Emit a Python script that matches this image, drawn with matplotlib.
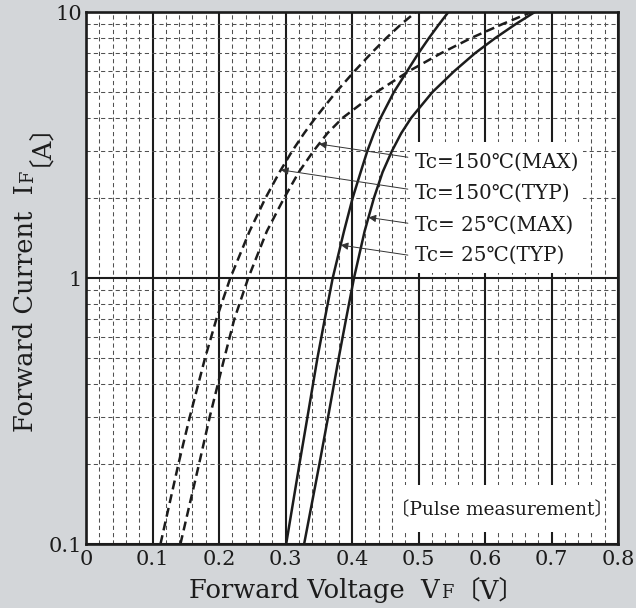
import numpy as np
import matplotlib
matplotlib.use("Agg")
import matplotlib.pyplot as plt
from matplotlib.patches import Rectangle
from matplotlib.ticker import FixedLocator, FixedFormatter, LogLocator, NullFormatter

# ---------------- data ----------------
current_levels = [0.1, 0.2, 0.3, 0.5, 0.7, 1, 1.5, 2, 2.5, 3, 3.5, 4, 5, 6, 7, 8, 9, 10]
vf_150_typ = [0.112, 0.139, 0.156, 0.179, 0.196, 0.217, 0.246, 0.270, 0.291,
              0.310, 0.328, 0.345, 0.376, 0.404, 0.429, 0.452, 0.474, 0.496]
vf_150_max = [0.142, 0.170, 0.186, 0.208, 0.223, 0.244, 0.272, 0.298, 0.320,
              0.342, 0.363, 0.386, 0.437, 0.486, 0.534, 0.580, 0.626, 0.670]
vf_25_typ = [0.301, 0.321, 0.333, 0.348, 0.359, 0.371, 0.388, 0.401, 0.413,
             0.423, 0.433, 0.443, 0.463, 0.483, 0.500, 0.516, 0.531, 0.545]
vf_25_max = [0.328, 0.351, 0.364, 0.380, 0.391, 0.403, 0.419, 0.433, 0.446,
             0.460, 0.474, 0.489, 0.521, 0.554, 0.585, 0.616, 0.646, 0.675]

series_labels = ["Tc=150℃(MAX)", "Tc=150℃(TYP)", "Tc= 25℃(MAX)", "Tc= 25℃(TYP)"]
arrow_currents = [3.19, 2.55, 1.69, 1.33]   # current where each label arrow touches its curve

x_ticks = [0, 0.1, 0.2, 0.3, 0.4, 0.5, 0.6, 0.7, 0.8]
x_tick_labels = ["0", "0.1", "0.2", "0.3", "0.4", "0.5", "0.6", "0.7", "0.8"]
y_ticks = [0.1, 1, 10]
y_tick_labels = ["0.1", "1", "10"]
note_text = "〔Pulse measurement〕"

# ---------------- style ----------------
BG = "#d3d6d9"
INK = "#1c1c1c"
FAM = ["DejaVu Serif", "DejaVu Sans", "Noto Sans CJK JP"]
plt.rcParams["font.family"] = FAM

W_PX, H_PX = 636, 608
fig = plt.figure(figsize=(W_PX / 100, H_PX / 100), dpi=100, facecolor=BG)
ax = fig.add_axes([86 / W_PX, 64 / H_PX, 532 / W_PX, 532 / H_PX])
ax.set_facecolor("white")

ax.set_yscale("log")
ax.set_xlim(0, 0.8)
ax.set_ylim(0.1, 10)

ax.xaxis.set_major_locator(FixedLocator(x_ticks))
ax.xaxis.set_major_formatter(FixedFormatter(x_tick_labels))
minor_x = [v for v in np.arange(0.02, 0.8, 0.02) if abs(v * 10 - round(v * 10)) > 1e-6]
ax.xaxis.set_minor_locator(FixedLocator(minor_x))
ax.yaxis.set_major_locator(FixedLocator(y_ticks))
ax.yaxis.set_major_formatter(FixedFormatter(y_tick_labels))
ax.yaxis.set_minor_locator(LogLocator(base=10, subs=range(2, 10)))
ax.yaxis.set_minor_formatter(NullFormatter())

ax.tick_params(which="both", length=0, labelsize=15, colors=INK)
ax.tick_params(axis="x", pad=4)
ax.tick_params(axis="y", pad=3)

ax.set_axisbelow(True)
ax.grid(which="major", color=INK, lw=1.5, ls="-")
ax.grid(which="minor", color="#505050", lw=0.75, ls=(0, (4, 3)))
for sp in ax.spines.values():
    sp.set_linewidth(1.9)
    sp.set_color(INK)

# ---------------- curves ----------------
dash = (0, (3.6, 2.0))
ax.plot(vf_150_max, current_levels, color=INK, lw=1.8, ls=dash, zorder=2)
ax.plot(vf_150_typ, current_levels, color=INK, lw=1.8, ls=dash, zorder=2)
ax.plot(vf_25_max, current_levels, color=INK, lw=1.8, ls="-", zorder=2)
ax.plot(vf_25_typ, current_levels, color=INK, lw=1.8, ls="-", zorder=2)

# ---------------- label box with arrows ----------------
ax.add_patch(Rectangle((0.609, 0.509), 0.325, 0.247, transform=ax.transAxes,
                       facecolor="white", edgecolor="none", zorder=1.5))
label_y = [0.718, 0.660, 0.5996, 0.543]
arrow_start_y = [0.727, 0.667, 0.603, 0.543]
curves_for_labels = [vf_150_max, vf_150_typ, vf_25_max, vf_25_typ]
log_levels = np.log10(current_levels)
for lab, ly, sy, cur, ic in zip(series_labels, label_y, arrow_start_y,
                                curves_for_labels, arrow_currents):
    ax.text(0.618, ly, lab, transform=ax.transAxes, fontsize=14.3, color=INK,
            ha="left", va="center", zorder=3)
    tip_v = np.interp(np.log10(ic), log_levels, cur)
    ax.annotate("", xy=(tip_v, ic), xycoords="data",
                xytext=(0.605, sy), textcoords="axes fraction",
                arrowprops=dict(arrowstyle="-|>", color="#333333", lw=0.7,
                                mutation_scale=11, shrinkA=0, shrinkB=0),
                zorder=3)

# pulse-measurement note on its own white patch
ax.add_patch(Rectangle((0.594, 0.0226), 0.376, 0.0884, transform=ax.transAxes,
                       facecolor="white", edgecolor="none", zorder=1.5))
ax.text(0.782, 0.064, note_text, transform=ax.transAxes, fontsize=13.3, color=INK,
        ha="center", va="center", zorder=3)


# ---------------- axis labels with small-cap subscript ----------------
def chained_label(pieces, center_px, base_px, vertical):
    items = []
    for s, size, gap in pieces:
        t = fig.text(0, 0, s, fontsize=size, color=INK, ha="left", va="baseline",
                     rotation=90 if vertical else 0, rotation_mode="anchor")
        items.append((t, gap))
    fig.canvas.draw()
    r = fig.canvas.get_renderer()
    lengths = []
    for t, _ in items:
        bb = t.get_window_extent(r)
        lengths.append(bb.height if vertical else bb.width)
    total = sum(lengths) + sum(g for _, g in items[1:])
    pos = center_px - total / 2
    for i, ((t, gap), L) in enumerate(zip(items, lengths)):
        if i > 0:
            pos += gap
        if vertical:
            t.set_position((base_px / W_PX, pos / H_PX))
        else:
            t.set_position((pos / W_PX, base_px / H_PX))
        pos += L


chained_label([("Forward Voltage  V", 18.5, 0), ("F", 12.8, 1), ("〔V〕", 18.5, 1)],
              center_px=357, base_px=H_PX - 598, vertical=False)
chained_label([("Forward Current  I", 18.5, 0), ("F", 12.8, 1), ("〔A〕", 18.5, 4)],
              center_px=H_PX - 264, base_px=33, vertical=True)

fig.savefig("out.png", dpi=100, facecolor=BG)
